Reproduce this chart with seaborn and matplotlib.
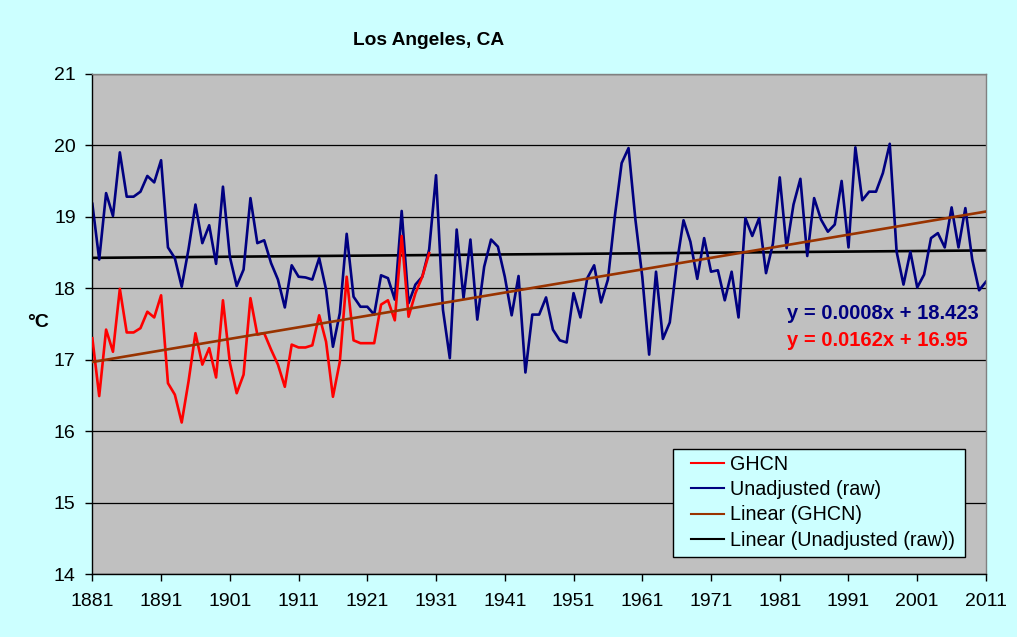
import numpy as np
import pandas as pd
import seaborn as sns
from matplotlib import pyplot as plt
from matplotlib.patches import Rectangle

# annual mean temperature, Los Angeles
raw_years = np.arange(1881, 2012)
raw_temp = [19.18, 18.40, 19.33, 19.01, 19.90, 19.28, 19.28, 19.35, 19.57, 19.48,
            19.79, 18.57, 18.42, 18.02, 18.55, 19.17, 18.63, 18.88, 18.34, 19.42,
            18.44, 18.03, 18.26, 19.26, 18.63, 18.67, 18.35, 18.12, 17.73, 18.32,
            18.16, 18.15, 18.12, 18.42, 17.98, 17.18, 17.65, 18.76, 17.88, 17.74,
            17.74, 17.63, 18.18, 18.14, 17.84, 19.08, 17.79, 18.05, 18.16, 18.54,
            19.58, 17.70, 17.02, 18.82, 17.86, 18.68, 17.56, 18.30, 18.68, 18.58,
            18.16, 17.62, 18.17, 16.82, 17.63, 17.63, 17.87, 17.42, 17.27, 17.24,
            17.93, 17.59, 18.14, 18.32, 17.80, 18.12, 19.00, 19.75, 19.96, 18.96,
            18.16, 17.07, 18.23, 17.29, 17.52, 18.33, 18.95, 18.65, 18.13, 18.70,
            18.23, 18.25, 17.83, 18.23, 17.59, 18.98, 18.73, 18.98, 18.21, 18.62,
            19.55, 18.56, 19.17, 19.53, 18.45, 19.26, 18.96, 18.79, 18.89, 19.50,
            18.57, 19.97, 19.23, 19.35, 19.35, 19.61, 20.02, 18.51, 18.05, 18.51,
            18.01, 18.19, 18.70, 18.77, 18.57, 19.13, 18.57, 19.12, 18.40, 17.97,
            18.09]

ghcn_years = np.arange(1881, 1931)
ghcn_temp = [17.30, 16.49, 17.42, 17.11, 17.99, 17.38, 17.38, 17.44, 17.67, 17.59,
             17.90, 16.67, 16.51, 16.12, 16.70, 17.37, 16.93, 17.16, 16.75, 17.83,
             16.96, 16.53, 16.79, 17.86, 17.35, 17.37, 17.14, 16.93, 16.62, 17.21,
             17.17, 17.17, 17.20, 17.62, 17.25, 16.48, 16.97, 18.16, 17.27, 17.23,
             17.23, 17.23, 17.77, 17.83, 17.55, 18.73, 17.60, 17.93, 18.16, 18.49]

# Excel trendline coefficients (x = 1, 2, ... point index)
raw_fit = (0.0008, 18.423)
ghcn_fit = (0.0162, 16.95)

navy = '#000080'
red = '#FF0000'
brown = '#993300'
cyan = '#CCFFFF'

plt.rcParams['font.family'] = ['Liberation Sans', 'DejaVu Sans']

fig = plt.figure(figsize=(10.17, 6.37), dpi=100)
fig.patch.set_facecolor(cyan)
ax = fig.add_axes([0.0908, 0.0989, 0.8787, 0.7853])
ax.set_facecolor('#C0C0C0')

idx = np.arange(1, len(raw_years) + 1)
raw_df = pd.DataFrame({'year': raw_years, 'temp': raw_temp})
ghcn_df = pd.DataFrame({'year': ghcn_years, 'temp': ghcn_temp})

ax.yaxis.grid(True, color='black', linewidth=0.9)
ax.set_axisbelow(True)

sns.lineplot(data=ghcn_df, x='year', y='temp', ax=ax, color=red, linewidth=1.9,
             label='GHCN', zorder=3)
sns.lineplot(data=raw_df, x='year', y='temp', ax=ax, color=navy, linewidth=1.9,
             label='Unadjusted (raw)', zorder=2)
sns.lineplot(x=raw_years, y=ghcn_fit[0] * idx + ghcn_fit[1], ax=ax, color=brown,
             linewidth=1.9, label='Linear (GHCN)', zorder=4)
sns.lineplot(x=raw_years, y=raw_fit[0] * idx + raw_fit[1], ax=ax, color='black',
             linewidth=1.9, label='Linear (Unadjusted (raw))', zorder=1)

ax.set_xlim(1881, 2011)
ax.set_ylim(14, 21)
ax.set_xticks(np.arange(1881, 2012, 10))
ax.set_yticks(np.arange(14, 22, 1))
ax.tick_params(axis='both', labelsize=14, direction='out', length=5, width=1,
               color='black')
ax.tick_params(axis='x', pad=9)
ax.tick_params(axis='y', pad=7)
ax.set_xlabel('')
ax.set_ylabel('')

for side in ['left', 'bottom']:
    ax.spines[side].set_color('black')
    ax.spines[side].set_linewidth(1)
for side in ['top', 'right']:
    ax.spines[side].set_color('#808080')
    ax.spines[side].set_linewidth(1)

fig.text(0.4218, 0.937, 'Los Angeles, CA', ha='center', va='center',
         fontsize=13.8, fontweight='bold')
fig.text(0.0375, 0.4945, '°C', ha='center', va='center', fontsize=14,
         fontweight='bold')

ax.text(0.777, 0.52, 'y = {}x + {}'.format(raw_fit[0], raw_fit[1]),
        transform=ax.transAxes, ha='left', va='center', color=navy,
        fontsize=14.5, fontweight='bold')
ax.text(0.777, 0.466, 'y = {}x + {}'.format(ghcn_fit[0], ghcn_fit[1]),
        transform=ax.transAxes, ha='left', va='center', color=red,
        fontsize=14.5, fontweight='bold')

# legend box drawn separately so it can be wider than the legend content
box = Rectangle((0.65, 0.034), 0.327, 0.216, transform=ax.transAxes,
                facecolor=cyan, edgecolor='black', linewidth=1, zorder=5)
ax.add_patch(box)
leg = ax.legend(loc='upper left', bbox_to_anchor=(0.663, 0.25), fontsize=14.2,
                frameon=False, handlelength=1.7, handletextpad=0.3,
                labelspacing=0.32, borderpad=0.3, borderaxespad=0)
leg.set_zorder(6)
for line in leg.get_lines():
    line.set_linewidth(1.5)

fig.savefig('out.png', dpi=100, facecolor=fig.get_facecolor())
